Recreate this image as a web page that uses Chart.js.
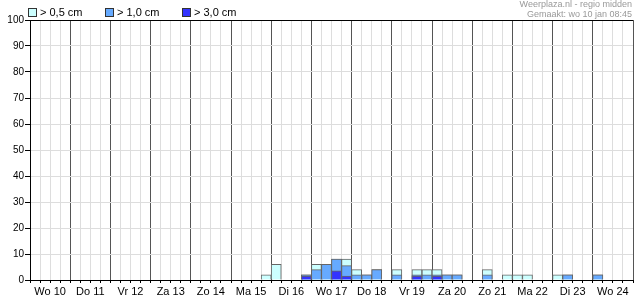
<!DOCTYPE html>
<html><head><meta charset="utf-8">
<script src="https://cdn.jsdelivr.net/npm/chart.js@4.4.1/dist/chart.umd.min.js"></script>
<style>html,body{margin:0;padding:0;background:#fff;}#wrap{width:635px;height:300px;}</style>
</head><body><div id="wrap"><canvas id="c" width="635" height="300"></canvas></div>
<script>
// Day labels (each day = 4 six-hour slots)
const days = ['Wo 10','Do 11','Vr 12','Za 13','Zo 14','Ma 15','Di 16','Wo 17','Do 18','Vr 19','Za 20','Zo 21','Ma 22','Di 23','Wo 24'];
const seriesNames = ['> 0,5 cm','> 1,0 cm','> 3,0 cm'];
const headerLines = ['Weerplaza.nl - regio midden','Gemaakt: wo 10 jan 08:45'];
// values per 6-hour slot, 4 per day
const over05 = [
  0,0,0,0,  0,0,0,0,  0,0,0,0,  0,0,0,0,  0,0,0,0,
  0,0,0,2,  6,0,0,2,  6,6,8,8,  4,2,4,0,  4,0,4,4,
  4,2,2,0,  0,4,0,2,  2,2,0,0,  2,2,0,0,  2,0,0,0
];
const over10 = [
  0,0,0,0,  0,0,0,0,  0,0,0,0,  0,0,0,0,  0,0,0,0,
  0,0,0,0,  0,0,0,2,  4,6,8,5.5,2,2,4,0,  2,0,2,2,
  2,2,2,0,  0,2,0,0,  0,0,0,0,  0,2,0,0,  2,0,0,0
];
const over30 = [
  0,0,0,0,  0,0,0,0,  0,0,0,0,  0,0,0,0,  0,0,0,0,
  0,0,0,0,  0,0,0,1.5,0,0,3.5,1.5,0,0,0,0, 0,0,1.5,0,
  1.5,0,0,0,0,0,0,0,  0,0,0,0,  0,0,0,0,  0,0,0,0
];

const FONT = "'Liberation Sans', Arial, sans-serif";
Chart.defaults.font.family = FONT;

const toPoints = arr => arr.map((v, i) => v ? {x: i + 0.5, y: v} : null).filter(p => p);

const overlay = {
  id: 'overlay',
  afterDraw(chart) {
    const ctx = chart.ctx;
    ctx.save();
    ctx.font = '11px ' + FONT;
    ctx.textBaseline = 'middle';
    ctx.textAlign = 'left';
    chart.data.datasets.forEach((ds, i) => {
      const x0 = 28 + i * 77;
      ctx.fillStyle = ds.backgroundColor;
      ctx.fillRect(x0, 8, 9, 9);
      ctx.strokeStyle = '#333';
      ctx.lineWidth = 1;
      ctx.strokeRect(x0 + 0.5, 8.5, 8, 8);
      ctx.fillStyle = '#000';
      ctx.fillText(ds.label, x0 + 12, 13);
    });
    ctx.font = '9px ' + FONT;
    ctx.fillStyle = '#999';
    ctx.textAlign = 'right';
    headerLines.forEach((t, i) => ctx.fillText(t, 632, 5 + i * 10));
    ctx.restore();
  }
};

const common = {borderColor: '#666', borderWidth: 1, barPercentage: 1, categoryPercentage: 1, grouped: false, borderSkipped: 'start'};

new Chart(document.getElementById('c'), {
  type: 'bar',
  data: {
    datasets: [
      Object.assign({label: seriesNames[0], data: toPoints(over05), backgroundColor: '#ccffff', order: 3}, common),
      Object.assign({label: seriesNames[1], data: toPoints(over10), backgroundColor: '#66aaff', order: 2}, common),
      Object.assign({label: seriesNames[2], data: toPoints(over30), backgroundColor: '#3333ff', order: 1}, common)
    ]
  },
  options: {
    responsive: false,
    animation: false,
    devicePixelRatio: 1,
    layout: {padding: {top: 20, right: 2, left: 0, bottom: 0}},
    plugins: {legend: {display: false}, tooltip: {enabled: false}},
    scales: {
      x: {
        type: 'linear', min: 0, max: 60, offset: false,
        ticks: {
          stepSize: 1, maxTicksLimit: 100, autoSkip: false, maxRotation: 0, minRotation: 0,
          color: '#000', font: {size: 11}, padding: 2,
          callback: v => (v % 4 === 2) ? days[(v - 2) / 4] : ''
        },
        grid: {
          offset: false,
          color: c => (c.tick && c.tick.value % 4 === 0) ? '#555' : '#ddd',
          tickColor: '#000', tickLength: 3
        },
        border: {color: '#000'},
        afterFit: s => { s.height = 20; }
      },
      y: {
        min: 0, max: 100,
        ticks: {stepSize: 10, color: '#000', font: {size: 10}, padding: 1},
        grid: {
          color: c => (c.tick && c.tick.value === 100) ? '#000' : '#ddd',
          tickColor: '#000', tickLength: 5
        },
        border: {color: '#000'},
        afterFit: s => { s.width = 30; }
      }
    }
  },
  plugins: [overlay]
});
</script></body></html>
